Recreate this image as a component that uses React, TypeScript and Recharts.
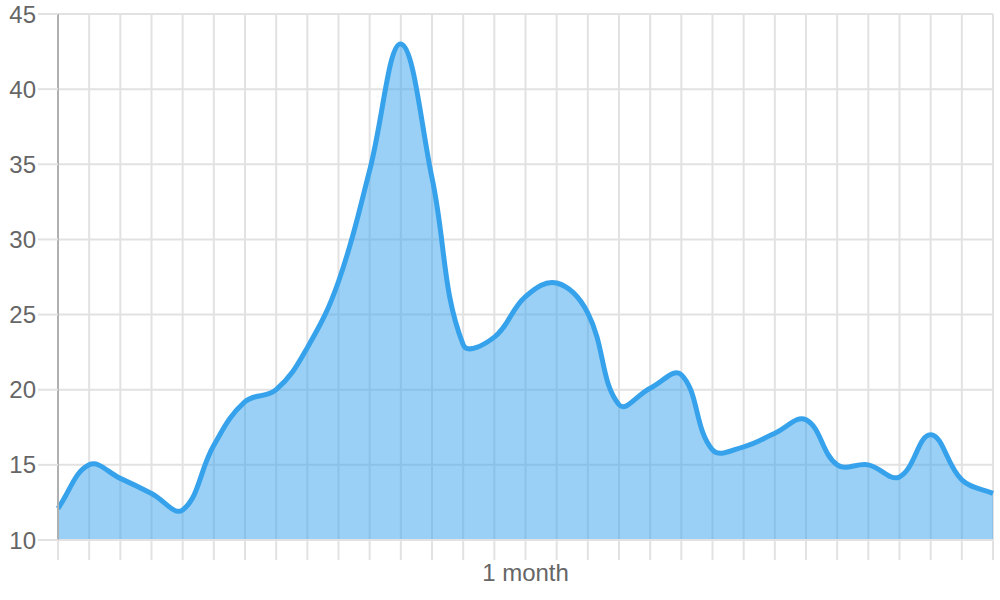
import { AreaChart, Area, XAxis, YAxis, CartesianGrid } from "recharts";

// one point per day, label only in the middle
const days = Array.from({ length: 31 }, (_, i) => i);
const tickLabels: Record<number, string> = { 15: "1 month" };
const values = [
  12.1, 15, 14.1, 13.1, 12, 16.3, 19.2, 20, 22.8, 27.2, 34.6, 43, 34.1, 23, 23.5, 26.2,
  27.1, 25.1, 19, 20.1, 21, 16, 16.2, 17.1, 18, 15, 15, 14.2, 17, 14, 13.1,
];
const yTicks = [10, 15, 20, 25, 30, 35, 40, 45];

const data = days.map((d, i) => ({ day: d, value: values[i] }));

const font = { fontFamily: "Liberation Sans, Arial, sans-serif", fontSize: 24, fill: "#666" };
const gridColor = "#e2e2e2";

// bezier spline with tension, like the usual canvas chart libs do it
const tensionCurve = (tension: number) => (ctx: any) => {
  let pts: number[][] = [];
  let line = NaN;
  const draw = () => {
    const n = pts.length;
    if (!n) return;
    const cps = pts.map((p, i) => {
      const prev = pts[i - 1] || p;
      const next = pts[i + 1] || p;
      const d01 = Math.hypot(p[0] - prev[0], p[1] - prev[1]);
      const d12 = Math.hypot(next[0] - p[0], next[1] - p[1]);
      const sum = d01 + d12 || 1;
      const fa = (tension * d01) / sum;
      const fb = (tension * d12) / sum;
      return {
        before: [p[0] - fa * (next[0] - prev[0]), p[1] - fa * (next[1] - prev[1])],
        after: [p[0] + fb * (next[0] - prev[0]), p[1] + fb * (next[1] - prev[1])],
      };
    });
    if (line) ctx.lineTo(pts[0][0], pts[0][1]);
    else ctx.moveTo(pts[0][0], pts[0][1]);
    for (let i = 1; i < n; i++) {
      const a = cps[i - 1].after;
      const b = cps[i].before;
      ctx.bezierCurveTo(a[0], a[1], b[0], b[1], pts[i][0], pts[i][1]);
    }
  };
  return {
    areaStart() { line = 0; },
    areaEnd() { line = NaN; },
    lineStart() { pts = []; },
    lineEnd() {
      draw();
      if (line || (line !== 0 && pts.length === 1)) ctx.closePath();
      line = 1 - line;
    },
    point(x: number, y: number) { pts.push([+x, +y]); },
  };
};

export default function App() {
  return (
    <div style={{ width: 1000, height: 600 }}>
      <style>{"body{margin:0}"}</style>
      <AreaChart width={1000} height={600} data={data} margin={{ top: 14, right: 7, left: 0, bottom: 0 }}>
        <CartesianGrid stroke={gridColor} strokeWidth={2} />
        <XAxis
          dataKey="day"
          interval={0}
          height={60}
          tickSize={20}
          tickMargin={4}
          tick={font}
          tickLine={{ stroke: gridColor, strokeWidth: 2 }}
          axisLine={{ stroke: gridColor, strokeWidth: 2 }}
          tickFormatter={(d: number) => tickLabels[d] ?? ""}
        />
        <YAxis
          domain={[10, 45]}
          ticks={yTicks}
          width={58}
          tickSize={20}
          tickMargin={2}
          tick={font}
          tickLine={{ stroke: gridColor, strokeWidth: 2 }}
          axisLine={{ stroke: "#b0b0b0", strokeWidth: 2 }}
        />
        <Area
          type={tensionCurve(0.4) as any}
          dataKey="value"
          stroke="#36a2eb"
          strokeWidth={5}
          fill="#36a2eb"
          fillOpacity={0.5}
          dot={false}
          activeDot={false}
          isAnimationActive={false}
        />
      </AreaChart>
    </div>
  );
}
